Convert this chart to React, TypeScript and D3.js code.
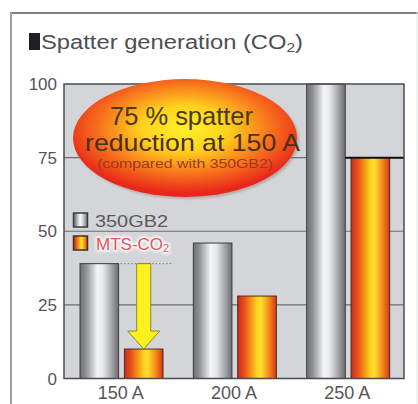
import React from "react";
import * as d3 from "d3";

const categories = ["150 A", "200 A", "250 A"];
const series = ["350GB2", "MTS-CO₂"];
const gb2Values = [39, 46, 100];
const mtsValues = [10, 28, 75];
const yTicks = [0, 25, 50, 75, 100];

const W = 418;
const H = 404;

export default function App() {
  const x = d3.scaleBand<string>().domain(categories).range([64, 404]).padding(0);
  const xInner = d3
    .scaleBand<string>()
    .domain(series)
    .range([16, 99])
    .paddingInner(0.13);
  const y = d3.scaleLinear().domain([0, 100]).range([378.5, 84]);
  const bw = xInner.bandwidth();

  const font = "Arial, 'Liberation Sans', Helvetica, sans-serif";
  const gbX = (i: number) => (x(categories[i]) as number) + (xInner(series[0]) as number);
  const mtX = (i: number) => (x(categories[i]) as number) + (xInner(series[1]) as number);

  // arrow geometry for 150 A
  const arrowCx = mtX(0) + bw / 2;
  const arrowTop = y(gb2Values[0]);
  const arrowTip = y(mtsValues[0]);
  const shaftHalf = 7;
  const headHalf = 16;
  const headStart = arrowTip - 18;

  return (
    <div style={{ position: "fixed", left: 0, top: 0, width: W, height: H, overflow: "hidden" }}>
      <svg width={W} height={H} style={{ display: "block", fontFamily: font }}>
        <defs>
          <linearGradient id="gray" x1="0" x2="1" y1="0" y2="0">
            <stop offset="0" stopColor="#6e7074" />
            <stop offset="0.15" stopColor="#8c8e92" />
            <stop offset="0.45" stopColor="#f4f5f6" />
            <stop offset="0.6" stopColor="#e6e7e9" />
            <stop offset="0.85" stopColor="#9a9ca0" />
            <stop offset="1" stopColor="#6a6c70" />
          </linearGradient>
          <linearGradient id="orange" x1="0" x2="1" y1="0" y2="0">
            <stop offset="0" stopColor="#c8281c" />
            <stop offset="0.2" stopColor="#ea5a1a" />
            <stop offset="0.5" stopColor="#ffd21a" />
            <stop offset="0.6" stopColor="#ffe030" />
            <stop offset="0.85" stopColor="#f07a18" />
            <stop offset="1" stopColor="#d0381a" />
          </linearGradient>
          <radialGradient id="blob" cx="0.5" cy="0.42" r="0.55">
            <stop offset="0" stopColor="#fff02a" />
            <stop offset="0.35" stopColor="#ffd21e" />
            <stop offset="0.7" stopColor="#f8721c" />
            <stop offset="1" stopColor="#e8261a" />
          </radialGradient>
          <filter id="glow" x="-20%" y="-40%" width="140%" height="180%">
            <feGaussianBlur stdDeviation="1.5" />
          </filter>
          <filter id="shadow" x="-10%" y="-10%" width="120%" height="130%">
            <feGaussianBlur stdDeviation="1.2" />
          </filter>
        </defs>

        <rect width={W} height={H} fill="#ffffff" />
        {/* outer frame */}
        <line x1={11} x2={418} y1={13} y2={13} stroke="#7d7f82" strokeWidth={2} />
        <line x1={11} x2={11} y1={12} y2={404} stroke="#9fa1a4" strokeWidth={2} />
        <line x1={417} x2={417} y1={12} y2={404} stroke="#e4e5e6" strokeWidth={1} />

        {/* title */}
        <rect x={29} y={33} width={11} height={17} fill="#1e1e24" />
        <text x={41} y={49} fontSize={20} fill="#4e4e52" textLength={262} lengthAdjust="spacingAndGlyphs">
          Spatter generation (CO
          <tspan fontSize={13} dy={3}>2</tspan>
          <tspan dy={-3}>)</tspan>
        </text>

        {/* plot area */}
        <rect x={64} y={84} width={340} height={294.5} fill="#d3d5d8" />
        {yTicks.slice(1, 4).map((t) => (
          <line key={t} x1={64} x2={404} y1={y(t)} y2={y(t)} stroke="#6a6c70" strokeWidth={1.2} />
        ))}
        {yTicks.map((t) => (
          <text key={t} x={57} y={y(t) + 6} fontSize={17} fill="#555558" textAnchor="end">
            {t}
          </text>
        ))}

        {/* bars */}
        {categories.map((c, i) => (
          <g key={c}>
            <rect
              x={gbX(i)}
              y={y(gb2Values[i])}
              width={bw}
              height={y(0) - y(gb2Values[i])}
              fill="url(#gray)"
              stroke="#3c3c40"
              strokeWidth={1}
            />
            <rect
              x={mtX(i)}
              y={y(mtsValues[i])}
              width={bw}
              height={y(0) - y(mtsValues[i])}
              fill="url(#orange)"
              stroke="#4a2a20"
              strokeWidth={1}
            />
            <text
              x={(x(c) as number) + x.bandwidth() / 2}
              y={399}
              fontSize={18}
              fill="#555558"
              textAnchor="middle"
            >
              {c}
            </text>
          </g>
        ))}
        {/* black line at 75 for 250 A */}
        <line x1={gbX(2) + bw} x2={404} y1={y(75)} y2={y(75)} stroke="#111" strokeWidth={2} />

        {/* plot border */}
        <rect x={64} y={84} width={340} height={294.5} fill="none" stroke="#4a4c50" strokeWidth={1.5} />

        {/* dotted reference line */}
        <line
          x1={gbX(0) + bw + 2}
          x2={gbX(0) + bw + 54}
          y1={arrowTop}
          y2={arrowTop}
          stroke="#7a7c80"
          strokeWidth={1}
          strokeDasharray="1.5 2"
        />
        {/* arrow */}
        <path
          d={`M${arrowCx - shaftHalf},${arrowTop} L${arrowCx + shaftHalf},${arrowTop} L${arrowCx + shaftHalf},${headStart} L${arrowCx + headHalf},${headStart} L${arrowCx},${arrowTip} L${arrowCx - headHalf},${headStart} L${arrowCx - shaftHalf},${headStart} Z`}
          fill="#fff01e"
          stroke="#8a8a30"
          strokeWidth={1}
        />

        {/* legend */}
        <rect x={73.5} y={213} width={14} height={14} fill="url(#gray)" stroke="#3c3c40" strokeWidth={1.5} />
        <text x={95} y={227} fontSize={17} fill="#5a5a5e" textLength={73} lengthAdjust="spacingAndGlyphs">
          350GB2
        </text>
        <rect x={73.5} y={236} width={14} height={14} fill="url(#orange)" stroke="#3c3030" strokeWidth={1.5} />
        <text x={96} y={250} fontSize={17} fill="#ffffff" stroke="#ffffff" strokeWidth={3} filter="url(#glow)">
          MTS-CO<tspan fontSize={11} dy={2}>2</tspan>
        </text>
        <text x={96} y={250} fontSize={17} fill="#e8505a">
          MTS-CO<tspan fontSize={11} dy={2}>2</tspan>
        </text>

        {/* callout ellipse */}
        <ellipse cx={187} cy={140} rx={112} ry={59} fill="#8a7a70" opacity={0.45} filter="url(#shadow)" />
        <ellipse cx={185} cy={138} rx={112} ry={59} fill="url(#blob)" />
        <text x={110} y={125} fontSize={25} fill="#4a3a14" textLength={143} lengthAdjust="spacingAndGlyphs">
          75 % spatter
        </text>
        <text x={85} y={151} fontSize={24} fill="#4a3014" textLength={215} lengthAdjust="spacingAndGlyphs">
          reduction at 150 A
        </text>
        <text x={97} y={168} fontSize={12.5} fill="#9a3a1e" textLength={176} lengthAdjust="spacingAndGlyphs">
          (compared with 350GB2)
        </text>
      </svg>
    </div>
  );
}
